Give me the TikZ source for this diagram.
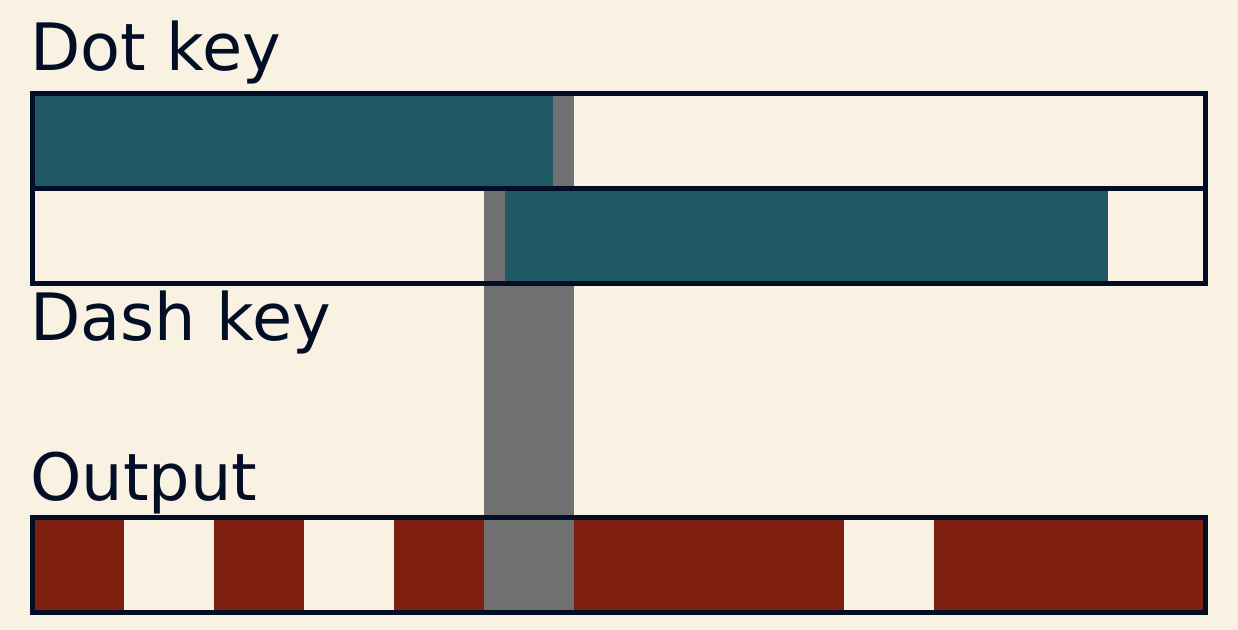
\documentclass[tikz,border=0pt]{standalone}
\usepackage{fontspec}
\setmainfont{DejaVu Sans}
\definecolor{paper}{HTML}{F9F1E1}
\definecolor{ink}{HTML}{020D26}
\definecolor{keyteal}{HTML}{1E5862}
\definecolor{overlap}{HTML}{707070}
\definecolor{outred}{HTML}{7F1F0F}
\begin{document}
\begin{tikzpicture}[x=0.75pt, y=-0.75pt,
    keylabel/.style={anchor=base west, inner sep=0pt, text=ink, font=\fontsize{49}{59}\selectfont},
    frame/.style={draw=ink, line width=3.75pt}]
          \fill[paper] (0,0) rectangle (1238,630);
          \useasboundingbox (0,0) rectangle (1238,630);

          \node[keylabel] (dotlbl) at (30,71) {Dot key};
          \node[keylabel] (dashlbl) at (30,341) {Dash key};
          \node[keylabel] (outlbl) at (30,500) {Output};

          % dot key row
          \fill[keyteal] (32,93.5) rectangle (553,188.5);
          \fill[overlap] (553,93.5) rectangle (574,188.5);
          % dash key row
          \fill[overlap] (484,188.5) rectangle (505,283.5);
          \fill[keyteal] (505,188.5) rectangle (1108,283.5);
          % gap between the keys
          \fill[overlap] (484,283.5) rectangle (574,517.5);
          % output row
          \foreach \a/\b in {32/124, 214/304, 394/484, 574/844, 934/1205.5}
            \fill[outred] (\a,517.5) rectangle (\b,612.5);
          \fill[overlap] (484,517.5) rectangle (574,612.5);

          \draw[frame] (32,93.5) rectangle (1205.5,283.5);
          \draw[frame] (32,188.5) -- (1205.5,188.5);
          \draw[frame] (32,517.5) rectangle (1205.5,612.5);
          \end{tikzpicture}
\end{document}
